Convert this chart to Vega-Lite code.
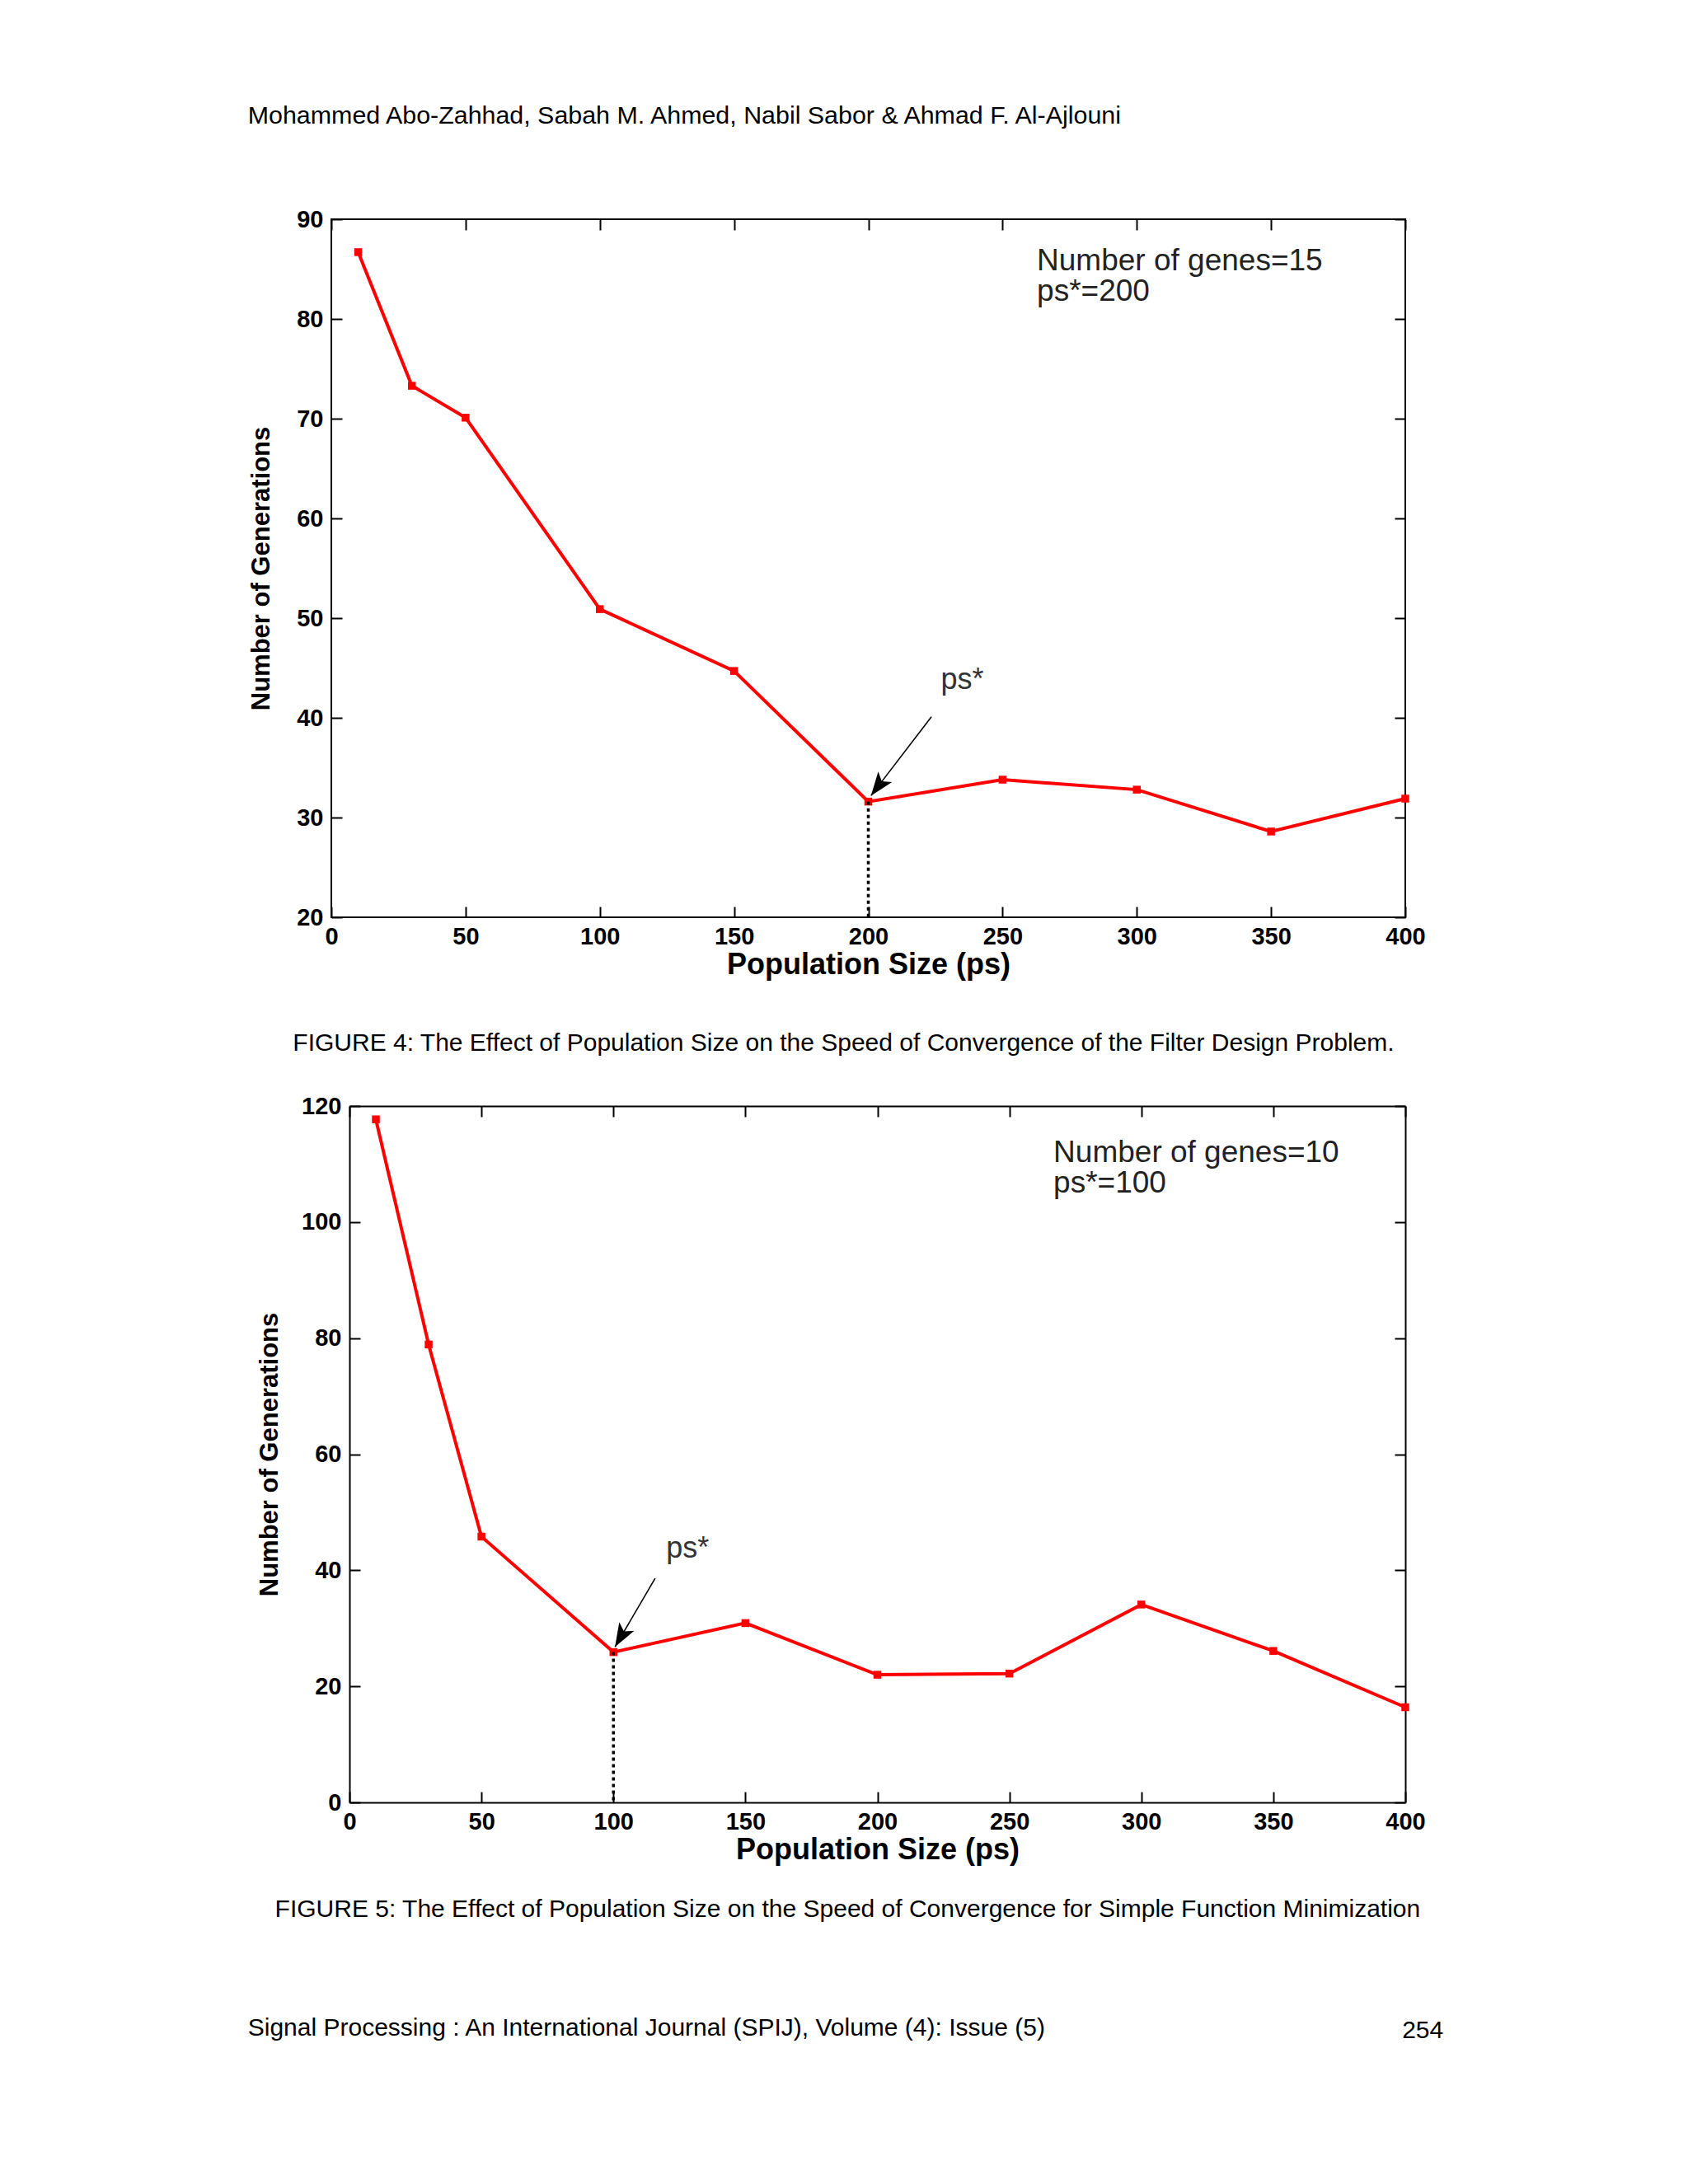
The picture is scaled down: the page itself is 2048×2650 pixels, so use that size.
{
  "$schema": "https://vega.github.io/schema/vega-lite/v6.json",
  "background": "white",
  "padding": {"left": 300, "top": 125, "right": 10, "bottom": 10},
  "datasets": {
    "fig4": [
      {"ps": 10, "gen": 86.7}, {"ps": 30, "gen": 73.3}, {"ps": 50, "gen": 70.1},
      {"ps": 100, "gen": 50.9}, {"ps": 150, "gen": 44.7}, {"ps": 200, "gen": 31.6},
      {"ps": 250, "gen": 33.8}, {"ps": 300, "gen": 32.8}, {"ps": 350, "gen": 28.6},
      {"ps": 400, "gen": 31.9}
    ],
    "fig5": [
      {"ps": 10, "gen": 117.7}, {"ps": 30, "gen": 78.9}, {"ps": 50, "gen": 45.8},
      {"ps": 100, "gen": 25.9}, {"ps": 150, "gen": 30.9}, {"ps": 200, "gen": 22.0},
      {"ps": 250, "gen": 22.2}, {"ps": 300, "gen": 34.1}, {"ps": 350, "gen": 26.1},
      {"ps": 400, "gen": 16.4}
    ],
    "arrow4": [{"x": 223.5, "y": 40.1, "x2": 201, "y2": 32.2}],
    "arrow5": [{"x": 115.8, "y": 38.6, "x2": 100.6, "y2": 26.8}],
    "label4": [{"x": 227, "y": 43.8, "text": "ps*"}],
    "label5": [{"x": 120, "y": 43.8, "text": "ps*"}],
    "note4": [
      {"x": 262.8, "y": 85.8, "text": "Number of genes=15"},
      {"x": 262.8, "y": 82.7, "text": "ps*=200"}
    ],
    "note5": [
      {"x": 266.7, "y": 111.9, "text": "Number of genes=10"},
      {"x": 266.7, "y": 106.7, "text": "ps*=100"}
    ]
  },
  "title": {
    "text": "Mohammed Abo-Zahhad, Sabah M. Ahmed, Nabil Sabor & Ahmad F. Al-Ajlouni",
    "orient": "top", "anchor": "start", "fontSize": 30.4, "fontWeight": "normal",
    "font": "Liberation Sans", "color": "#000", "offset": 95
  },
  "vconcat": [
    {
      "title": {
        "text": "254", "orient": "bottom", "anchor": "end", "fontSize": 30,
        "fontWeight": "normal", "font": "Liberation Sans", "color": "#000", "offset": -27, "dx": 21
      },
      "vconcat": [
        {
          "title": {
            "text": "Signal Processing : An International Journal (SPIJ), Volume (4): Issue (5)",
            "orient": "bottom", "anchor": "start", "fontSize": 30, "fontWeight": "normal",
            "font": "Liberation Sans", "color": "#000", "offset": 114
          },
          "spacing": 46,
          "vconcat": [
            {
              "width": 1303,
              "height": 847,
              "title": {
                "text": "FIGURE 4: The Effect of Population Size on the Speed of Convergence of the Filter Design Problem.",
                "orient": "bottom", "anchor": "middle", "frame": "bounds", "fontSize": 30, "fontWeight": "normal",
                "font": "Liberation Sans", "color": "#000", "offset": 63, "dx": 8
              },
              "resolve": {"axis": {"x": "independent", "y": "independent"}},
              "layer": [
                {
                  "data": {"name": "fig4"},
                  "mark": {"type": "line", "color": "#ff0000", "strokeWidth": 4},
                  "encoding": {
                    "x": {"field": "ps", "type": "quantitative",
                      "scale": {"domain": [0, 400], "nice": false},
                      "axis": {"orient": "bottom", "values": [0, 50, 100, 150, 200, 250, 300, 350, 400], "title": "Population Size (ps)", "titleFontSize": 36, "titlePadding": 2, "labelPadding": 22}},
                    "y": {"field": "gen", "type": "quantitative",
                      "scale": {"domain": [20, 90], "nice": false, "zero": false},
                      "axis": {"orient": "left", "values": [20, 30, 40, 50, 60, 70, 80, 90], "title": "Number of Generations", "titleFontSize": 31, "titlePadding": 26, "labelPadding": 23}}
                  }
                },
                {
                  "data": {"name": "fig4"},
                  "mark": {"type": "point", "shape": "square", "filled": true, "color": "#ff0000", "opacity": 1, "size": 90},
                  "encoding": {
                    "x": {"field": "ps", "type": "quantitative", "axis": {"orient": "top", "labels": false, "title": null, "values": [0, 50, 100, 150, 200, 250, 300, 350, 400]}},
                    "y": {"field": "gen", "type": "quantitative", "axis": {"orient": "right", "labels": false, "title": null, "values": [20, 30, 40, 50, 60, 70, 80, 90]}}
                  }
                },
                {
                  "data": {"name": "fig4"},
                  "transform": [{"filter": "datum.ps == 200"}],
                  "mark": {"type": "rule", "color": "#000", "strokeWidth": 3.5, "strokeDash": [4, 4]},
                  "encoding": {
                    "x": {"field": "ps", "type": "quantitative", "axis": null},
                    "y": {"field": "gen", "type": "quantitative", "axis": null},
                    "y2": {"datum": 20}
                  }
                },
                {
                  "data": {"name": "arrow4"},
                  "mark": {"type": "rule", "color": "#000", "strokeWidth": 1.6},
                  "encoding": {
                    "x": {"field": "x", "type": "quantitative", "axis": null},
                    "y": {"field": "y", "type": "quantitative", "axis": null},
                    "x2": {"field": "x2"},
                    "y2": {"field": "y2"}
                  }
                },
                {
                  "data": {"name": "arrow4"},
                  "mark": {"type": "point", "shape": "M0,0L0.7,1.9L0,1.45L-0.7,1.9Z", "filled": true, "color": "#000", "opacity": 1, "size": 900, "angle": 217},
                  "encoding": {
                    "x": {"field": "x2", "type": "quantitative", "axis": null},
                    "y": {"field": "y2", "type": "quantitative", "axis": null}
                  }
                },
                {
                  "data": {"name": "label4"},
                  "mark": {"type": "text", "align": "left", "baseline": "middle", "fontSize": 36, "font": "Liberation Sans", "color": "#333"},
                  "encoding": {
                    "x": {"field": "x", "type": "quantitative", "axis": null},
                    "y": {"field": "y", "type": "quantitative", "axis": null},
                    "text": {"field": "text"}
                  }
                },
                {
                  "data": {"name": "note4"},
                  "mark": {"type": "text", "align": "left", "baseline": "middle", "fontSize": 37, "font": "Liberation Sans", "color": "#222"},
                  "encoding": {
                    "x": {"field": "x", "type": "quantitative", "axis": null},
                    "y": {"field": "y", "type": "quantitative", "axis": null},
                    "text": {"field": "text"}
                  }
                }
              ]
            },
            {
              "width": 1303,
              "height": 845,
              "view": {"stroke": null},
              "title": {
                "text": "FIGURE 5: The Effect of Population Size on the Speed of Convergence for Simple Function Minimization",
                "orient": "bottom", "anchor": "middle", "frame": "bounds", "fontSize": 30, "fontWeight": "normal",
                "font": "Liberation Sans", "color": "#000", "offset": 40, "dx": 8
              },
              "resolve": {"axis": {"x": "independent", "y": "independent"}},
              "layer": [
                {
                  "data": {"name": "fig5"},
                  "mark": {"type": "line", "color": "#ff0000", "strokeWidth": 4},
                  "encoding": {
                    "x": {"field": "ps", "type": "quantitative",
                      "scale": {"domain": [0, 400], "nice": false, "range": [22, 1303]},
                      "axis": {"orient": "bottom", "values": [0, 50, 100, 150, 200, 250, 300, 350, 400], "title": "Population Size (ps)", "titleFontSize": 36, "titlePadding": 2, "labelPadding": 22, "domain": true, "domainColor": "#000", "domainWidth": 2}},
                    "y": {"field": "gen", "type": "quantitative",
                      "scale": {"domain": [0, 120], "nice": false},
                      "axis": {"orient": "left", "offset": -22, "values": [0, 20, 40, 60, 80, 100, 120], "title": "Number of Generations", "titleFontSize": 31, "titlePadding": 22, "labelPadding": 23, "domain": true, "domainColor": "#000", "domainWidth": 2}}
                  }
                },
                {
                  "data": {"name": "fig5"},
                  "mark": {"type": "point", "shape": "square", "filled": true, "color": "#ff0000", "opacity": 1, "size": 90},
                  "encoding": {
                    "x": {"field": "ps", "type": "quantitative", "axis": {"orient": "top", "labels": false, "title": null, "values": [0, 50, 100, 150, 200, 250, 300, 350, 400], "domain": true, "domainColor": "#000", "domainWidth": 2}},
                    "y": {"field": "gen", "type": "quantitative", "axis": {"orient": "right", "labels": false, "title": null, "values": [0, 20, 40, 60, 80, 100, 120], "domain": true, "domainColor": "#000", "domainWidth": 2}}
                  }
                },
                {
                  "data": {"name": "fig5"},
                  "transform": [{"filter": "datum.ps == 100"}],
                  "mark": {"type": "rule", "color": "#000", "strokeWidth": 3.5, "strokeDash": [4, 4]},
                  "encoding": {
                    "x": {"field": "ps", "type": "quantitative", "axis": null},
                    "y": {"field": "gen", "type": "quantitative", "axis": null},
                    "y2": {"datum": 0}
                  }
                },
                {
                  "data": {"name": "arrow5"},
                  "mark": {"type": "rule", "color": "#000", "strokeWidth": 1.6},
                  "encoding": {
                    "x": {"field": "x", "type": "quantitative", "axis": null},
                    "y": {"field": "y", "type": "quantitative", "axis": null},
                    "x2": {"field": "x2"},
                    "y2": {"field": "y2"}
                  }
                },
                {
                  "data": {"name": "arrow5"},
                  "mark": {"type": "point", "shape": "M0,0L0.7,1.9L0,1.45L-0.7,1.9Z", "filled": true, "color": "#000", "opacity": 1, "size": 900, "angle": 210},
                  "encoding": {
                    "x": {"field": "x2", "type": "quantitative", "axis": null},
                    "y": {"field": "y2", "type": "quantitative", "axis": null}
                  }
                },
                {
                  "data": {"name": "label5"},
                  "mark": {"type": "text", "align": "left", "baseline": "middle", "fontSize": 36, "font": "Liberation Sans", "color": "#333"},
                  "encoding": {
                    "x": {"field": "x", "type": "quantitative", "axis": null},
                    "y": {"field": "y", "type": "quantitative", "axis": null},
                    "text": {"field": "text"}
                  }
                },
                {
                  "data": {"name": "note5"},
                  "mark": {"type": "text", "align": "left", "baseline": "middle", "fontSize": 37, "font": "Liberation Sans", "color": "#222"},
                  "encoding": {
                    "x": {"field": "x", "type": "quantitative", "axis": null},
                    "y": {"field": "y", "type": "quantitative", "axis": null},
                    "text": {"field": "text"}
                  }
                }
              ]
            }
          ]
        }
      ]
    }
  ],
  "config": {
    "font": "Liberation Sans",
    "view": {"stroke": "#000", "strokeWidth": 2},
    "axis": {
      "grid": false, "domain": false, "tickColor": "#000", "tickWidth": 2, "tickSize": -13,
      "labelFont": "Liberation Sans", "labelFontWeight": "bold", "labelFontSize": 29, "labelColor": "#000",
      "labelFlush": false, "labelOverlap": false,
      "titleFont": "Liberation Sans", "titleFontWeight": "bold", "titleColor": "#000"
    }
  }
}
